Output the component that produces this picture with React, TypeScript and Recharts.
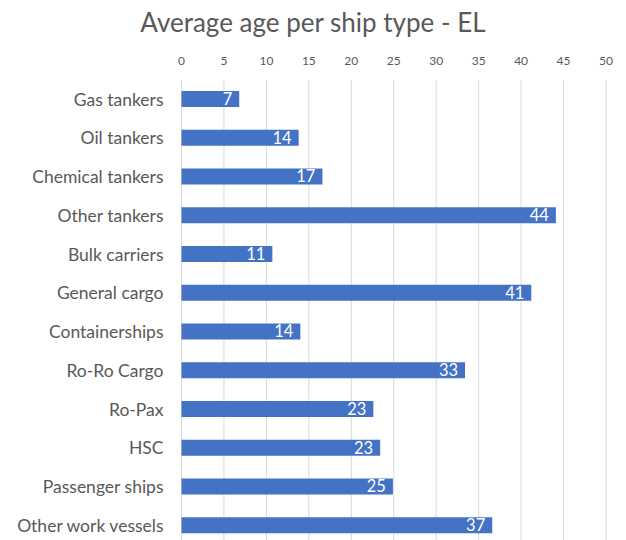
import React from 'react';
import { BarChart, Bar, XAxis, YAxis, CartesianGrid, LabelList } from 'recharts';

const categories = ['Gas tankers', 'Oil tankers', 'Chemical tankers', 'Other tankers', 'Bulk carriers', 'General cargo', 'Containerships', 'Ro-Ro Cargo', 'Ro-Pax', 'HSC', 'Passenger ships', 'Other work vessels'];
const ages = [6.8, 13.8, 16.6, 44.1, 10.7, 41.2, 14.0, 33.4, 22.6, 23.4, 24.9, 36.6];
const xTicks = [0, 5, 10, 15, 20, 25, 30, 35, 40, 45, 50];
const title = 'Average age per ship type - EL';

const data = categories.map((c, i) => ({ name: c, age: ages[i] }));
const FONT = 'Lato, "Open Sans", sans-serif';

export default function App() {
  return (
    <div style={{ position: 'absolute', left: 0, top: 0, width: 626, height: 540, overflow: 'hidden', background: '#fff' }}>
      <div style={{ position: 'absolute', left: 0, top: 6, width: 626, textAlign: 'center', fontFamily: FONT, fontSize: 26, color: '#595959' }}>{title}</div>
      <BarChart
        width={626}
        height={545}
        data={data}
        layout="vertical"
        margin={{ top: 79, right: 20, bottom: 0, left: 0 }}
        barSize={16}
      >
        <CartesianGrid horizontal={false} stroke="#d9d9d9" />
        <XAxis
          type="number"
          orientation="top"
          domain={[0, 50]}
          ticks={xTicks}
          axisLine={false}
          tickLine={false}
          tickSize={6}
          tickMargin={9}
          height={1}
          tick={{ fill: '#595959', fontSize: 12, fontFamily: FONT }}
        />
        <YAxis
          type="category"
          dataKey="name"
          width={181.5}
          axisLine={false}
          tickLine={false}
          tickMargin={12}
          tick={{ fill: '#595959', fontSize: 17.5, fontFamily: FONT }}
        />
        <Bar dataKey="age" fill="#4472C4" isAnimationActive={false}>
          <LabelList
            dataKey="age"
            position="insideRight"
            offset={7}
            formatter={(v: any) => Math.round(Number(v))}
            style={{ fill: '#ffffff', fontSize: 16.5, fontFamily: FONT }}
          />
        </Bar>
      </BarChart>
    </div>
  );
}
